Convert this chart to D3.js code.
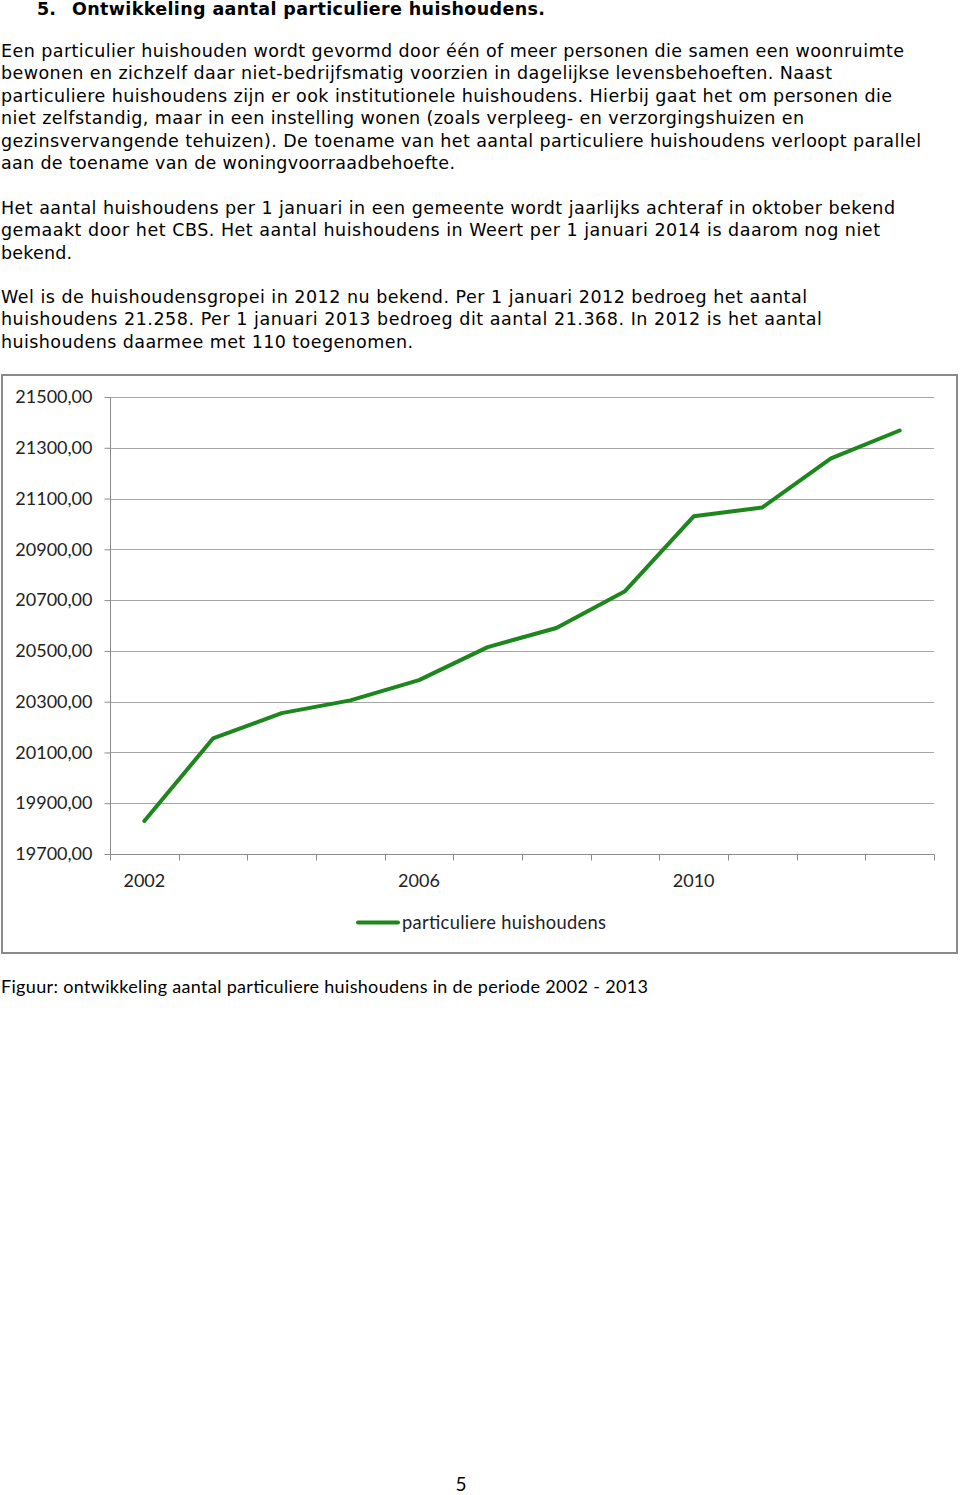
<!DOCTYPE html>
<html>
<head>
<meta charset="utf-8">
<script src="https://cdn.jsdelivr.net/npm/d3@7"></script>
<style>
  html, body { margin: 0; padding: 0; background: #fff; }
  svg { display: block; }
</style>
</head>
<body>
<script>
// ---- data ----
const years = [2002, 2003, 2004, 2005, 2006, 2007, 2008, 2009, 2010, 2011, 2012, 2013];
const households = [19830, 20155, 20255, 20305, 20385, 20515, 20590, 20735, 21030, 21065, 21258, 21368];
const yTicks = [19700, 19900, 20100, 20300, 20500, 20700, 20900, 21100, 21300, 21500];
const xLabelYears = [2002, 2006, 2010];
const seriesName = "particuliere huishoudens";

const titleNum = "5.";
const titleText = "Ontwikkeling aantal particuliere huishoudens.";
const paragraphs = [
  [
    ["Een particulier huishouden wordt gevormd door één of meer personen die samen een woonruimte", 904],
    ["bewonen en zichzelf daar niet-bedrijfsmatig voorzien in dagelijkse levensbehoeften. Naast", 832],
    ["particuliere huishoudens zijn er ook institutionele huishoudens. Hierbij gaat het om personen die", 892],
    ["niet zelfstandig, maar in een instelling wonen (zoals verpleeg- en verzorgingshuizen en", 804],
    ["gezinsvervangende tehuizen). De toename van het aantal particuliere huishoudens verloopt parallel", 921],
    ["aan de toename van de woningvoorraadbehoefte.", 455]
  ],
  [
    ["Het aantal huishoudens per 1 januari in een gemeente wordt jaarlijks achteraf in oktober bekend", 895],
    ["gemaakt door het CBS. Het aantal huishoudens in Weert per 1 januari 2014 is daarom nog niet", 880],
    ["bekend.", 72]
  ],
  [
    ["Wel is de huishoudensgropei in 2012 nu bekend. Per 1 januari 2012 bedroeg het aantal", 807],
    ["huishoudens 21.258. Per 1 januari 2013 bedroeg dit aantal 21.368. In 2012 is het aantal", 822],
    ["huishoudens daarmee met 110 toegenomen.", 413]
  ]
];
const paraStarts = [57, 214, 303];
const caption = "Figuur: ontwikkeling aantal particuliere huishoudens in de periode 2002 - 2013";
const pageNumber = "5";

// ---- svg ----
const W = 960, H = 1495;
const svg = d3.select("body").append("svg").attr("width", W).attr("height", H);

const bodyFont = "'DejaVu Sans', Verdana, sans-serif";
const chartFont = "Lato, 'Open Sans', sans-serif";

// title
svg.append("text").attr("x", 37).attr("y", 15)
  .attr("font-family", bodyFont).attr("font-weight", "bold").attr("font-size", 17.5)
  .attr("fill", "#000").text(titleNum);
svg.append("text").attr("x", 72).attr("y", 15)
  .attr("font-family", bodyFont).attr("font-weight", "bold").attr("font-size", 17.5)
  .attr("fill", "#000").attr("textLength", 473).attr("lengthAdjust", "spacing").text(titleText);

// paragraphs
paragraphs.forEach((lines, pi) => {
  lines.forEach(([t, w], li) => {
    svg.append("text")
      .attr("x", 1).attr("y", paraStarts[pi] + li * 22.4)
      .attr("font-family", bodyFont).attr("font-size", 17.5).attr("fill", "#000")
      .attr("textLength", w - 1).attr("lengthAdjust", "spacing")
      .text(t);
  });
});

// chart frame
svg.append("rect").attr("x", 2).attr("y", 375).attr("width", 955).attr("height", 578)
  .attr("fill", "#fff").attr("stroke", "#8a8a8a").attr("stroke-width", 2);

const plot = { left: 110, right: 934, top: 397, bottom: 854 };

const x = d3.scaleBand().domain(years).range([plot.left, plot.right]).padding(0);
const y = d3.scaleLinear().domain([19700, 21500]).range([plot.bottom, plot.top]);

// gridlines
svg.append("g").selectAll("line").data(yTicks.filter(d => d !== 19700)).join("line")
  .attr("x1", plot.left).attr("x2", plot.right)
  .attr("y1", d => Math.round(y(d)) + 0.5).attr("y2", d => Math.round(y(d)) + 0.5)
  .attr("stroke", "#a6a6a6").attr("stroke-width", 1.2);

// y axis
const yAxis = d3.axisLeft(y).tickValues(yTicks).tickSize(6).tickPadding(12)
  .tickFormat(d => d3.format("d")(d) + ",00");
const gy = svg.append("g").attr("transform", `translate(${plot.left + 0.5},0)`).call(yAxis);
gy.select(".domain").attr("stroke", "#8c8c8c").attr("d", `M0,${plot.top}V${plot.bottom + 6}`);
gy.selectAll(".tick line").attr("stroke", "#8c8c8c");
gy.selectAll(".tick text").attr("font-family", chartFont).attr("font-size", 18).attr("fill", "#222");

// x axis
const gx = svg.append("g").attr("transform", `translate(0,${Math.round(plot.bottom) + 0.5})`);
gx.append("line").attr("x1", plot.left).attr("x2", plot.right).attr("stroke", "#8c8c8c").attr("stroke-width", 1.2);
const boundaries = years.map(d => x(d)).concat([x(years[years.length - 1]) + x.bandwidth()]);
gx.selectAll("line.tk").data(boundaries).join("line").attr("class", "tk")
  .attr("x1", d => Math.round(d) + 0.5).attr("x2", d => Math.round(d) + 0.5)
  .attr("y1", 0).attr("y2", 6).attr("stroke", "#8c8c8c");
gx.selectAll("text").data(xLabelYears).join("text")
  .attr("x", d => x(d) + x.bandwidth() / 2).attr("y", 32)
  .attr("text-anchor", "middle").attr("font-family", chartFont).attr("font-size", 18).attr("fill", "#222")
  .text(d => d);

// line
const line = d3.line().x((d, i) => x(years[i]) + x.bandwidth() / 2).y(d => y(d));
svg.append("path").datum(households).attr("d", line)
  .attr("fill", "none").attr("stroke", "#1d861d").attr("stroke-width", 4)
  .attr("stroke-linejoin", "round").attr("stroke-linecap", "round");

// legend
svg.append("line").attr("x1", 358).attr("x2", 398).attr("y1", 922.5).attr("y2", 922.5)
  .attr("stroke", "#1d861d").attr("stroke-width", 4).attr("stroke-linecap", "round");
svg.append("text").attr("x", 402).attr("y", 929)
  .attr("font-family", chartFont).attr("font-size", 18.3).attr("fill", "#222")
  .attr("textLength", 204).attr("lengthAdjust", "spacing").text(seriesName);

// caption
svg.append("text").attr("x", 1).attr("y", 993)
  .attr("font-family", chartFont).attr("font-size", 18).attr("fill", "#000")
  .attr("textLength", 647).attr("lengthAdjust", "spacing").text(caption);

// page number
svg.append("text").attr("x", 461).attr("y", 1491).attr("text-anchor", "middle")
  .attr("font-family", chartFont).attr("font-size", 19).attr("fill", "#000").text(pageNumber);
</script>
</body>
</html>
